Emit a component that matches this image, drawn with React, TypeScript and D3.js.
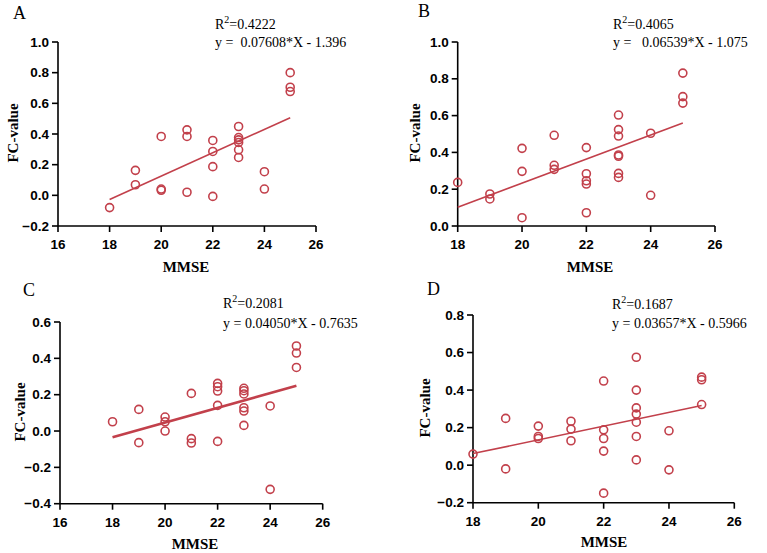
import React from 'react'
import * as d3 from 'd3'

// data (MMSE vs FC-value)
const xA = [18, 19, 19, 20, 20, 20, 21, 21, 21, 22, 22, 22, 22, 23, 23, 23, 23, 23, 23, 24, 24, 25, 25, 25]
const yA = [-0.08, 0.163, 0.069, 0.384, 0.041, 0.033, 0.427, 0.384, 0.02, 0.358, 0.286, 0.187, -0.007, 0.449, 0.377, 0.362, 0.345, 0.297, 0.247, 0.154, 0.041, 0.8, 0.705, 0.677]

const xB = [18, 19, 19, 20, 20, 20, 21, 21, 21, 22, 22, 22, 22, 22, 23, 23, 23, 23, 23, 23, 23, 24, 24, 25, 25, 25]
const yB = [0.237, 0.174, 0.147, 0.422, 0.297, 0.045, 0.493, 0.33, 0.308, 0.426, 0.284, 0.246, 0.228, 0.072, 0.603, 0.524, 0.489, 0.386, 0.379, 0.286, 0.264, 0.504, 0.167, 0.831, 0.703, 0.668]

const xC = [18, 19, 19, 20, 20, 20, 21, 21, 21, 22, 22, 22, 22, 22, 23, 23, 23, 23, 23, 23, 24, 24, 25, 25, 25]
const yC = [0.051, 0.119, -0.064, 0.077, 0.051, 0.0, 0.207, -0.042, -0.066, 0.262, 0.244, 0.22, 0.141, -0.057, 0.235, 0.222, 0.204, 0.128, 0.11, 0.031, 0.138, -0.321, 0.468, 0.429, 0.35]

const xD = [18, 19, 19, 20, 20, 20, 21, 21, 21, 22, 22, 22, 22, 22, 23, 23, 23, 23, 23, 23, 23, 24, 24, 25, 25, 25]
const yD = [0.059, 0.249, -0.02, 0.208, 0.153, 0.142, 0.234, 0.192, 0.13, 0.448, 0.188, 0.142, 0.075, -0.149, 0.575, 0.4, 0.305, 0.272, 0.229, 0.153, 0.028, 0.183, -0.025, 0.469, 0.455, 0.323]

// fits: slope, intercept
const fitA = [0.07608, -1.396]
const fitB = [0.06539, -1.075]
const fitC = [0.0405, -0.7635]
const fitD = [0.03657, -0.5966]

const labels = ['A', 'B', 'C', 'D']
const r2Text = ['0.4222', '0.4065', '0.2081', '0.1687']
const eqText = ['y =  0.07608*X - 1.396', 'y =   0.06539*X - 1.075', 'y = 0.04050*X - 0.7635', 'y = 0.03657*X - 0.5966']
const xTicksA = [16, 18, 20, 22, 24, 26]
const xTicksB = [18, 20, 22, 24, 26]
const yTicksA = [-0.2, 0, 0.2, 0.4, 0.6, 0.8, 1.0]
const yTicksB = [0, 0.2, 0.4, 0.6, 0.8, 1.0]
const yTicksC = [-0.4, -0.2, 0, 0.2, 0.4, 0.6]
const yTicksD = [-0.2, 0, 0.2, 0.4, 0.6, 0.8]

const red = '#c2404b'
const sans = '"Liberation Sans", Arial, sans-serif'
const serif = '"Liberation Serif", "Times New Roman", serif'

// layout of each panel in pixels
const panels = [
  { xs: xA, ys: yA, fit: fitA, xTicks: xTicksA, yTicks: yTicksA, x0: 58, x1: 316, yTop: 42, yBot: 226, lw: 1.6,
    lab: [13, 19], r2: [215, 29], eq: [215, 47], xt: [186, 272], yt: [13, 133] },
  { xs: xB, ys: yB, fit: fitB, xTicks: xTicksB, yTicks: yTicksB, x0: 457.7, x1: 715, yTop: 42, yBot: 226, lw: 1.6,
    lab: [418, 17], r2: [613, 29], eq: [613, 47], xt: [590, 272], yt: [415, 133] },
  { xs: xC, ys: yC, fit: fitC, xTicks: xTicksA, yTicks: yTicksC, x0: 60, x1: 322.7, yTop: 322, yBot: 503.7, lw: 2.6,
    lab: [23, 296], r2: [223, 308], eq: [223, 328], xt: [195, 549], yt: [20, 412] },
  { xs: xD, ys: yD, fit: fitD, xTicks: xTicksB, yTicks: yTicksD, x0: 473, x1: 734.3, yTop: 315, yBot: 502.7, lw: 1.6,
    lab: [427, 295], r2: [612, 309], eq: [612, 328], xt: [604, 547], yt: [425, 408] },
]

function Panel({ p, i }: { p: any, i: number }) {
  const xs = d3.scaleLinear().domain([p.xTicks[0], p.xTicks[p.xTicks.length - 1]]).range([p.x0, p.x1])
  const ys = d3.scaleLinear().domain([p.yTicks[0], p.yTicks[p.yTicks.length - 1]]).range([p.yBot, p.yTop])
  const fmt = d3.format('.1f')
  const line = d3.line<number>().x(d => xs(d)).y(d => ys(p.fit[0] * d + p.fit[1]))

  return (
    <g>
      <text x={p.lab[0]} y={p.lab[1]} fontFamily={serif} fontSize={18}>{labels[i]}</text>
      <text x={p.r2[0]} y={p.r2[1]} fontFamily={serif} fontSize={14}>
        R<tspan dy={-6} fontSize={10}>2</tspan><tspan dy={6}>={r2Text[i]}</tspan>
      </text>
      <text x={p.eq[0]} y={p.eq[1]} fontFamily={serif} fontSize={14} style={{ whiteSpace: 'pre' }}>{eqText[i]}</text>

      {/* axes */}
      <line x1={p.x0} x2={p.x1} y1={p.yBot} y2={p.yBot} stroke="#000" strokeWidth={1.6} />
      <line x1={p.x0} x2={p.x0} y1={p.yTop} y2={p.yBot} stroke="#000" strokeWidth={1.6} />
      {p.xTicks.map((t: number) => (
        <g key={'x' + t}>
          <line x1={xs(t)} x2={xs(t)} y1={p.yBot} y2={p.yBot + 6} stroke="#000" strokeWidth={1.6} />
          <text x={xs(t)} y={p.yBot + 23} textAnchor="middle" fontFamily={sans} fontWeight="bold" fontSize={13.5}>{t}</text>
        </g>
      ))}
      {p.yTicks.map((t: number) => (
        <g key={'y' + t}>
          <line x1={p.x0 - 6} x2={p.x0} y1={ys(t)} y2={ys(t)} stroke="#000" strokeWidth={1.6} />
          <text x={p.x0 - 9} y={ys(t) + 4.5} textAnchor="end" fontFamily={sans} fontWeight="bold" fontSize={13.5}>{fmt(t)}</text>
        </g>
      ))}
      <text x={p.xt[0]} y={p.xt[1]} textAnchor="middle" fontFamily={serif} fontWeight="bold" fontSize={15}>MMSE</text>
      <text transform={`translate(${p.yt[0]},${p.yt[1]}) rotate(-90)`} dy={5} textAnchor="middle" fontFamily={serif} fontWeight="bold" fontSize={15}>FC-value</text>

      {/* fit line */}
      <path d={line([18, 25]) || ''} fill="none" stroke={red} strokeWidth={p.lw} />

      {p.xs.map((x: number, j: number) => (
        <circle key={j} cx={xs(x)} cy={ys(p.ys[j])} r={4} fill="none" stroke={red} strokeWidth={1.6} />
      ))}
    </g>
  )
}

export default function App() {
  return (
    <svg width={767} height={553} style={{ position: 'absolute', left: 0, top: 0, background: '#fff' }}>
      {panels.map((p, i) => <Panel key={i} p={p} i={i} />)}
    </svg>
  )
}
